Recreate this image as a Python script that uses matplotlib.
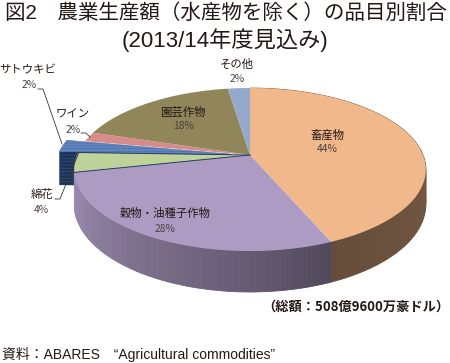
import numpy as np
import matplotlib
matplotlib.use("Agg")
import matplotlib.pyplot as plt
from matplotlib.patches import Polygon
from matplotlib.colors import to_rgb

plt.rcParams['font.family'] = ['Noto Sans CJK JP', 'DejaVu Sans']
plt.rcParams['hatch.linewidth'] = 0.4
LATIN_CJK = ['Liberation Sans', 'Noto Sans CJK JP']

# Data, clockwise from 12 o'clock
categories = ['畜産物', '穀物・油種子作物', '綿花', 'サトウキビ', 'ワイン', '園芸作物', 'その他']
shares = [43.6, 28.0, 3.9, 2.4, 1.9, 17.8, 2.4]
percent_labels = ['44%', '28%', '4%', '2%', '2%', '18%', '2%']
top_colors = ['#F1B88C', '#AD9BC3', '#BED299', '#5F84BF', '#D68C8A', '#90865A', '#94A9CC']
title_1 = '図2　農業生産額（水産物を除く）の品目別割合'
title_2 = '(2013/14年度見込み)'
total_note = '（総額：508億9600万豪ドル）'
source_note = '資料：ABARES　“Agricultural commodities”'

W, H = 450, 363
fig = plt.figure(figsize=(W / 100, H / 100), dpi=100)
ax = fig.add_axes([0, 0, 1, 1])
ax.set_xlim(0, W)
ax.set_ylim(H, 0)
ax.axis('off')

# Perspective pie projection
CX, CY, A, Hh, K, DEPTH = 250.0, 155.0, 173.0, 78.9, 0.178, 33.7


def proj(x, y, drop=0.0):
    d = 1 + K * y
    return CX + A * x / d, CY - Hh * y / d + drop * DEPTH / d


def rim(th, off=(0.0, 0.0), drop=0.0):
    return proj(np.sin(th) + off[0], np.cos(th) + off[1], drop)


def sector(t0, t1, off=(0.0, 0.0)):
    th = np.linspace(t0, t1, 80)
    xs, ys = rim(th, off)
    ax0, ay0 = proj(off[0], off[1])
    return np.column_stack([np.r_[ax0, xs], np.r_[ay0, ys]])


def shade(c, f):
    return tuple(np.clip(np.array(to_rgb(c)) * f, 0, 1))


edges = np.deg2rad(np.r_[0, np.cumsum(shares)] * 3.6)
blue = categories.index('サトウキビ')
mid = (edges[blue] + edges[blue + 1]) / 2
blue_off = (0.112 * np.sin(mid), 0.112 * np.cos(mid))

# Exploded slice: radial cut wall (behind the others)
t0 = edges[blue]
ax0, ay0 = proj(*blue_off)
ox, oy = rim(t0, blue_off)
ox2, oy2 = rim(t0, blue_off, 1.0)
ax2, ay2 = proj(blue_off[0], blue_off[1], 1.0)
ax.add_patch(Polygon([(ax0, ay0), (ox, oy), (ox2, oy2), (ax2, ay2)], fc='#1F3557',
                     ec='#35557F', lw=0, hatch='-----', zorder=1))

# Outer side wall as smooth shaded strips
for i in (0, 1):
    ts = np.linspace(edges[i], edges[i + 1], 70)
    for k in range(len(ts) - 1):
        tt = np.linspace(ts[k], ts[k + 1], 3)
        x1, y1 = rim(tt)
        x2, y2 = rim(tt, drop=1.0)
        u = k / (len(ts) - 2)
        f = 0.58 - 0.16 * u if i == 0 else 0.47 + 0.43 * u ** 0.9
        col = shade(top_colors[i], f)
        ax.add_patch(Polygon(np.column_stack([np.r_[x1, x2[::-1]], np.r_[y1, y2[::-1]]]),
                             fc=col, ec=col, lw=0.6, zorder=2))

# Tops
ax.add_patch(Polygon(sector(edges[blue], edges[blue + 1], blue_off), fc=top_colors[blue],
                     ec='#4A6CA6', lw=0.3, hatch='------', zorder=3))
for i in range(len(shares)):
    if i == blue:
        continue
    ax.add_patch(Polygon(sector(edges[i], edges[i + 1]), fc=top_colors[i], ec='none', zorder=4))
# dark edges along the green slice
x3, y3 = rim(edges[2])
ax.plot([CX, x3], [CY, y3], color='#24406B', lw=0.7, zorder=5)
x4, y4 = rim(edges[3])
ax.plot([CX, x4], [CY, y4], color='#24406B', lw=0.7, zorder=5)

# Labels
lab = dict(ha='center', va='center', color='#231815', zorder=8)
label_pos = [(327, 135), (165, 213), (42, 194), (28, 70), (73, 115), (183, 112), (237, 64)]
pct_pos = [(327, 149), (165, 229), (41, 210), (29, 85), (73, 130), (183, 126), (237, 79)]
for name, p, xy, pxy in zip(categories, percent_labels, label_pos, pct_pos):
    ax.text(xy[0], xy[1], name, fontsize=8.2, **lab)
    ax.text(pxy[0], pxy[1], p, fontsize=7.4, ha='center', va='center', color='#4A4240', zorder=8)

# Leader lines
ll = dict(color='#3A3230', lw=0.6, zorder=9)
ax.plot([38, 43, 62], [89, 89, 144], **ll)
ax.plot([81, 86, 90], [133, 133, 137], **ll)
ax.plot([55, 60, 79], [199, 199, 152], **ll)

# Titles and notes
ax.text(226, 13, title_1, fontsize=14.8, family=LATIN_CJK, ha='center', va='center',
        color='#231815', zorder=8)
ax.text(225, 40, title_2, fontsize=16.0, family=LATIN_CJK, ha='center', va='center',
        color='#231815', zorder=8)
ax.text(356, 307, total_note, fontsize=9.5, ha='center', va='center', color='#231815',
        fontweight='bold', zorder=8)
ax.text(2, 354, source_note, fontsize=10.0, family=LATIN_CJK, ha='left', va='center',
        color='#231815', zorder=8)

fig.savefig('out.png', dpi=100)
